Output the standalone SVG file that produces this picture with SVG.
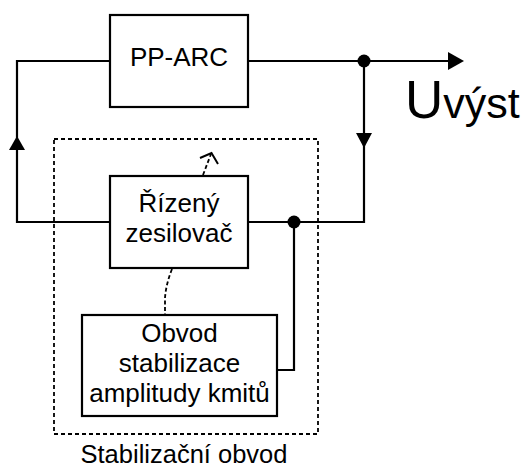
<svg xmlns="http://www.w3.org/2000/svg" width="523" height="468" viewBox="0 0 523 468">
<defs>
<style>
.box{fill:#fff;stroke:#000;stroke-width:2.2}
.wire{fill:none;stroke:#000;stroke-width:2.2}
.dash{fill:none;stroke:#000;stroke-width:1.8;stroke-dasharray:4 3}
.dash2{fill:none;stroke:#000;stroke-width:1.8;stroke-dasharray:4 2.5}
.head{fill:#000}
.lbl{font-family:"Liberation Sans",Arial,sans-serif;font-size:26px;fill:#000;text-anchor:middle}
</style>
</defs>
<rect width="523" height="468" fill="#fff"/>
<g id="stabilizacni-obvod">
<rect x="54" y="139" width="264" height="295" class="dash"/>
<text x="184" y="462.5" class="lbl" style="font-size:25.5px">Stabilizační obvod</text>
</g>
<g id="connectors">
<polyline class="wire" points="110,61 17,61 17,222 110,222"/>
<polyline class="wire" points="248,61 452,61"/>
<polyline class="wire" points="364,61 364,222 248,222"/>
<polyline class="wire" points="294,222 294,370 277,370"/>
<polygon class="head" points="448,52 464,61 448,70"/>
<polygon class="head" points="356,133 372,133 364,148"/>
<polygon class="head" points="9,150 25,150 17,136"/>
<circle class="head" cx="364" cy="61" r="6.5"/>
<circle class="head" cx="294" cy="222" r="6.5"/>
<path class="dash2" d="M203,175 L211,154"/>
<polyline class="wire" style="stroke-width:2" points="200,158 211.5,153 218,164"/>
<path class="dash2" d="M172,269 Q166,284 165,298 L165,315"/>
</g>
<g id="pp-arc">
<rect x="110" y="15" width="138" height="92" class="box"/>
<text x="179" y="66" class="lbl">PP-ARC</text>
</g>
<g id="rizeny-zesilovac">
<rect x="110" y="176" width="138" height="92" class="box"/>
<text x="179" y="212" class="lbl">Řízený</text>
<text x="179" y="242" class="lbl">zesilovač</text>
</g>
<g id="obvod-stabilizace">
<rect x="82" y="315" width="195" height="101" class="box"/>
<text x="179.5" y="342" class="lbl">Obvod</text>
<text x="179.5" y="372" class="lbl">stabilizace</text>
<text x="179.5" y="402" class="lbl">amplitudy kmitů</text>
</g>
<g id="output-label">
<text x="405" y="118" style="font-family:'Liberation Sans',Arial,sans-serif;fill:#000"><tspan font-size="53">U</tspan><tspan font-size="43">výst</tspan></text>
</g>
</svg>
